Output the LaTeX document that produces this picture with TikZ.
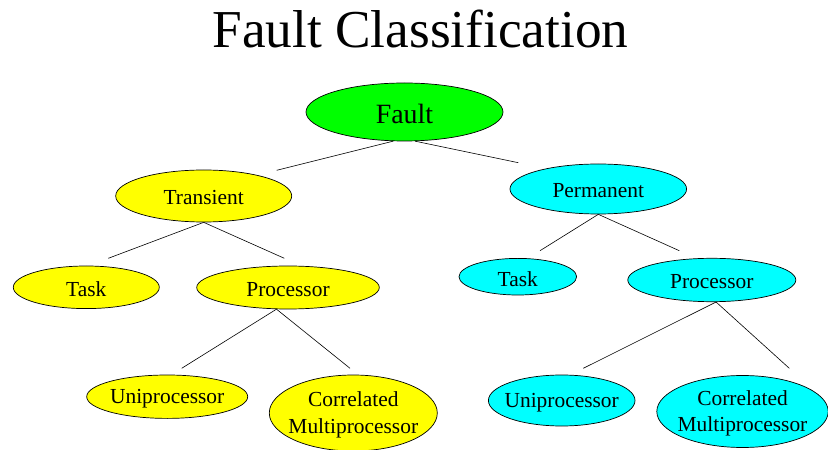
\documentclass[tikz,border=0pt]{standalone}
\usepackage{fontspec}
\setmainfont{Liberation Serif}
\usetikzlibrary{shapes.geometric}
\definecolor{faultgreen}{RGB}{0,255,0}
\definecolor{transyellow}{RGB}{255,255,0}
\definecolor{permcyan}{RGB}{0,255,255}
\begin{document}
\begin{tikzpicture}[x=1bp,y=-1bp,
  oval/.style={ellipse, draw=black, line width=0.7bp, inner sep=0pt},
  small/.style={font=\fontsize{21.5}{26.5}\selectfont, align=center, inner sep=0pt, yshift=-2bp},
  big/.style={font=\fontsize{28}{32}\selectfont, inner sep=0pt, yshift=-2bp},
  branch/.style={draw=black, line width=0.6bp}]
\useasboundingbox (0,0) rectangle (828,450);

% title
\node[anchor=base, font=\fontsize{53.5}{60}\selectfont, inner sep=0pt] (title)
  at (420.5,47.3) {Fault Classification};

% root
\node[oval, fill=faultgreen, minimum width=197bp, minimum height=58bp,
  label={[big]center:Fault}] (fault) at (404.5,112) {};

% transient branch
\node[oval, fill=transyellow, minimum width=176bp, minimum height=52bp,
  label={[small]center:Transient}] (trans) at (203.7,196) {};
\node[oval, fill=transyellow, minimum width=146bp, minimum height=42.6bp,
  label={[small]center:Task}] (ttask) at (86.3,287.3) {};
\node[oval, fill=transyellow, minimum width=182.6bp, minimum height=43bp,
  label={[small]center:Processor}] (tproc) at (288,287.5) {};
\node[oval, fill=transyellow, minimum width=161bp, minimum height=43.4bp,
  label={[small]center:Uniprocessor}] (tuni) at (167.2,396.7) {};
\node[oval, fill=transyellow, minimum width=168bp, minimum height=76bp,
  label={[small]center:Correlated\\Multiprocessor}] (tcorr) at (353.3,413) {};

% permanent branch
\node[oval, fill=permcyan, minimum width=176.6bp, minimum height=50bp,
  label={[small]center:Permanent}] (perm) at (598.3,189) {};
\node[oval, fill=permcyan, minimum width=117.6bp, minimum height=36.6bp,
  label={[small]center:Task}] (ptask) at (517.8,276.7) {};
\node[oval, fill=permcyan, minimum width=168bp, minimum height=43.4bp,
  label={[small]center:Processor}] (pproc) at (711.8,280) {};
\node[oval, fill=permcyan, minimum width=146.6bp, minimum height=51bp,
  label={[small]center:Uniprocessor}] (puni) at (561.7,400.5) {};
\node[oval, fill=permcyan, minimum width=171.4bp, minimum height=72bp,
  label={[small]center:Correlated\\Multiprocessor}] (pcorr) at (742.5,411.5) {};

% free ends of the branch lines, just above each child
\coordinate (toTrans) at (276.7,170.3);
\coordinate (toPerm)  at (518.3,162.7);
\coordinate (toTTask) at (108.3,258.3);
\coordinate (toTProc) at (284.3,258.3);
\coordinate (toPTask) at (540,250.7);
\coordinate (toPProc) at (679.3,250.7);
\coordinate (toTUni)  at (181.7,368.3);
\coordinate (toTCorr) at (350,368.3);
\coordinate (toPUni)  at (583.3,368.3);
\coordinate (toPCorr) at (789.3,368.3);

% branches
\path[branch] (fault.249) -- (toTrans);
\path[branch] (fault.290) -- (toPerm);
\path[branch] (trans.south) -- (toTTask);
\path[branch] (trans.south) -- (toTProc);
\path[branch] (perm.south) -- (toPTask);
\path[branch] (perm.south) -- (toPProc);
\path[branch] (tproc.242) -- (toTUni);
\path[branch] (tproc.242) -- (toTCorr);
\path[branch] (pproc.281) -- (toPUni);
\path[branch] (pproc.281) -- (toPCorr);
\end{tikzpicture}
\end{document}
